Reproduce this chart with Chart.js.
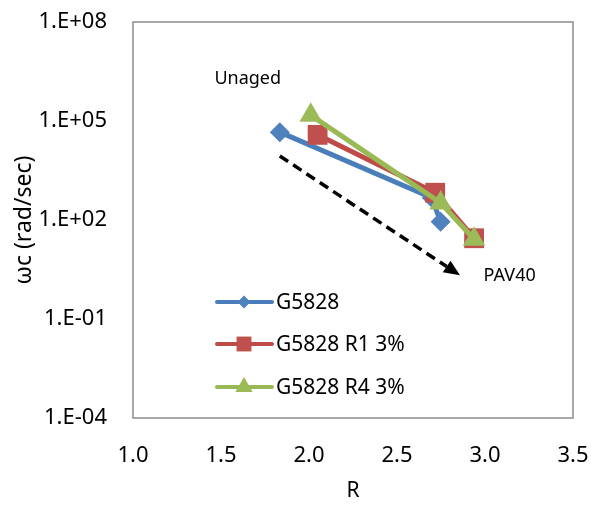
<!DOCTYPE html>
<html>
<head>
<meta charset="utf-8">
<script src="https://cdn.jsdelivr.net/npm/chart.js@4.4.1/dist/chart.umd.min.js"></script>
<style>
  body { margin: 0; background: #fff; }
</style>
</head>
<body>
<canvas id="myChart" width="591" height="506"></canvas>
<script>
// data
const seriesNames = ['G5828', 'G5828 R1 3%', 'G5828 R4 3%'];
const g5828R  = [1.834, 2.697, 2.748];
const g5828Wc = [4.6e4, 470, 89];
const r1R  = [2.049, 2.717, 2.938];
const r1Wc = [3.8e4, 670, 28];
const r4R  = [2.010, 2.748, 2.938];
const r4Wc = [1.5e5, 330, 26];

const yTickValues = [1e-4, 1e-1, 1e2, 1e5, 1e8];
const yTickLabels = ['1.E-04', '1.E-01', '1.E+02', '1.E+05', '1.E+08'];

// annotations (in data units)
const arrowFrom = { x: 1.834, y: 8.7e3 };
const arrowTo   = { x: 2.858, y: 2.1 };
const notes = [
  { text: 'Unaged', x: 1.652, y: 1.9e6 },
  { text: 'PAV40',  x: 3.140, y: 2.0 }
];

const colors = {
  blue:  { line: '#4A7EBB', mark: '#4F81BD' },
  red:   { line: '#BE4B48', mark: '#C0504D' },
  green: { line: '#98B954', mark: '#9BBB59' }
};

function pts(xs, ys) {
  return xs.map((x, i) => ({ x: x, y: ys[i] }));
}

Chart.defaults.font.family = "'Noto Sans', sans-serif";
Chart.defaults.color = '#000';

function drawMarker(ctx, style, x, y, r, color) {
  ctx.save();
  ctx.fillStyle = color;
  ctx.beginPath();
  if (style === 'rectRot') {
    ctx.moveTo(x - r, y); ctx.lineTo(x, y - r); ctx.lineTo(x + r, y); ctx.lineTo(x, y + r);
  } else if (style === 'rect') {
    const s = Math.SQRT1_2 * r;
    ctx.rect(x - s, y - s, 2 * s, 2 * s);
  } else {
    for (let k = 0; k < 3; k++) {
      const a = k * 2 * Math.PI / 3;
      ctx.lineTo(x + Math.sin(a) * r, y - Math.cos(a) * r);
    }
  }
  ctx.closePath();
  ctx.fill();
  ctx.restore();
}

// frame, arrow, text notes and inside legend
const extras = {
  id: 'extras',
  afterDatasetsDraw(chart) {
    const { ctx, chartArea: a, scales: { x, y } } = chart;
    ctx.save();
    ctx.strokeStyle = '#8c8c8c';
    ctx.lineWidth = 1.5;
    ctx.strokeRect(a.left, a.top, a.right - a.left, a.bottom - a.top);

    // dashed arrow
    const x0 = x.getPixelForValue(arrowFrom.x), y0 = y.getPixelForValue(arrowFrom.y);
    const x1 = x.getPixelForValue(arrowTo.x),   y1 = y.getPixelForValue(arrowTo.y);
    const ang = Math.atan2(y1 - y0, x1 - x0);
    const head = 16, hw = 7;
    const bx = x1 - Math.cos(ang) * head, by = y1 - Math.sin(ang) * head;
    ctx.strokeStyle = '#000';
    ctx.lineWidth = 3.5;
    ctx.setLineDash([10, 6]);
    ctx.beginPath();
    ctx.moveTo(x0, y0);
    ctx.lineTo(bx, by);
    ctx.stroke();
    ctx.setLineDash([]);
    ctx.fillStyle = '#000';
    ctx.beginPath();
    ctx.moveTo(x1, y1);
    ctx.lineTo(bx + Math.sin(ang) * hw, by - Math.cos(ang) * hw);
    ctx.lineTo(bx - Math.sin(ang) * hw, by + Math.cos(ang) * hw);
    ctx.closePath();
    ctx.fill();

    ctx.font = "18px 'Noto Sans'";
    ctx.textAlign = 'center';
    ctx.textBaseline = 'middle';
    notes.forEach(n => {
      ctx.fillText(n.text, x.getPixelForValue(n.x), y.getPixelForValue(n.y));
    });

    // legend
    const lx = a.left + 84, rows = [302, 344, 387];
    ctx.textAlign = 'left';
    ctx.font = "21px 'Noto Sans'";
    chart.data.datasets.forEach((ds, i) => {
      const ly = rows[i];
      ctx.strokeStyle = ds.borderColor;
      ctx.lineWidth = 4;
      ctx.lineCap = 'round';
      ctx.beginPath();
      ctx.moveTo(lx, ly);
      ctx.lineTo(lx + 55, ly);
      ctx.stroke();
      drawMarker(ctx, ds.pointStyle, lx + 27, ly, ds.legendRadius, ds.pointBackgroundColor);
      ctx.fillStyle = '#000';
      ctx.fillText(ds.label, lx + 59, ly + 1);
    });
    ctx.restore();
  }
};

const ctx = document.getElementById('myChart');

new Chart(ctx, {
  type: 'scatter',
  data: {
    datasets: [{
      label: seriesNames[0],
      data: pts(g5828R, g5828Wc),
      showLine: true,
      borderColor: colors.blue.line,
      backgroundColor: colors.blue.mark,
      pointBackgroundColor: colors.blue.mark,
      pointBorderWidth: 0,
      borderWidth: 5,
      pointStyle: 'rectRot',
      pointRadius: 10,
      legendRadius: 6.5,
      borderCapStyle: 'round',
      borderJoinStyle: 'round',
      order: 3
    }, {
      label: seriesNames[1],
      data: pts(r1R, r1Wc),
      showLine: true,
      borderColor: colors.red.line,
      backgroundColor: colors.red.mark,
      pointBackgroundColor: colors.red.mark,
      pointBorderWidth: 0,
      borderWidth: 5,
      pointStyle: 'rect',
      pointRadius: 14,
      legendRadius: 10.5,
      borderCapStyle: 'round',
      borderJoinStyle: 'round',
      order: 2
    }, {
      label: seriesNames[2],
      data: pts(r4R, r4Wc),
      showLine: true,
      borderColor: colors.green.line,
      backgroundColor: colors.green.mark,
      pointBackgroundColor: colors.green.mark,
      pointBorderWidth: 0,
      borderWidth: 5,
      pointStyle: 'triangle',
      pointRadius: 13,
      legendRadius: 10,
      borderCapStyle: 'round',
      borderJoinStyle: 'round',
      order: 1
    }]
  },
  options: {
    responsive: false,
    animation: false,
    layout: { padding: { top: 22, right: 18, left: 0, bottom: 0 } },
    plugins: {
      legend: { display: false },
      tooltip: { enabled: false }
    },
    scales: {
      x: {
        type: 'linear',
        min: 1,
        max: 3.5,
        grid: { display: false, drawTicks: false },
        border: { display: false },
        ticks: {
          stepSize: 0.5,
          padding: 25,
          font: { size: 22 },
          callback: v => v.toFixed(1)
        },
        title: { display: true, text: 'R', font: { size: 21 }, padding: { top: 0, bottom: 2 } },
        afterFit: s => { s.height = 88; s.paddingLeft = 0; s.paddingRight = 0; }
      },
      y: {
        type: 'logarithmic',
        min: 1e-4,
        max: 1e8,
        grid: { display: false, drawTicks: false },
        border: { display: false },
        afterBuildTicks: s => { s.ticks = yTickValues.map(v => ({ value: v })); },
        ticks: {
          padding: 26,
          font: { size: 22 },
          callback: (v, i) => yTickLabels[i]
        },
        title: { display: true, text: 'ωc (rad/sec)', font: { size: 23 }, padding: { top: 11, bottom: 0 } },
        afterFit: s => { s.width = 133; s.paddingTop = 0; s.paddingBottom = 0; }
      }
    }
  },
  plugins: [extras]
});
</script>
</body>
</html>
